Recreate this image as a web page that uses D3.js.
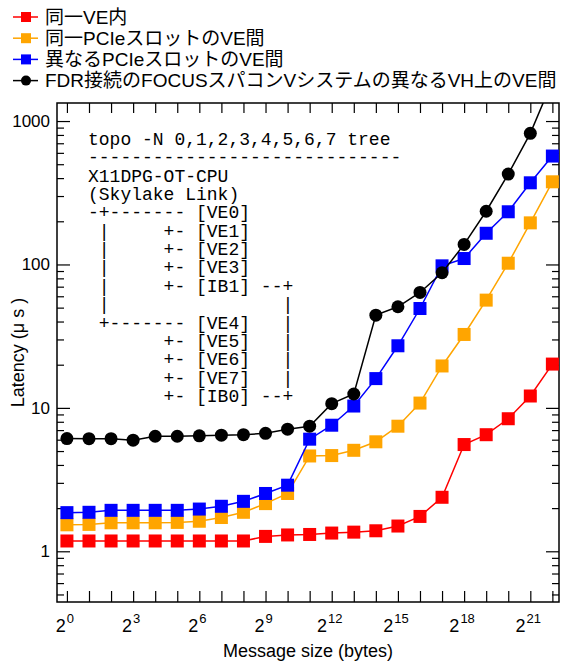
<!DOCTYPE html>
<html><head><meta charset="utf-8">
<script src="https://cdn.jsdelivr.net/npm/d3@7"></script>
<style>
html,body{margin:0;padding:0;background:#fff;}
svg{display:block;}
</style></head>
<body>
<svg id="chart" width="561" height="661"></svg>
<script>
// ---- data ----
const messageSizes = [1,2,4,8,16,32,64,128,256,512,1024,2048,4096,8192,16384,32768,65536,131072,262144,524288,1048576,2097152,4194304];
const sameVE      = [1.18,1.18,1.18,1.18,1.18,1.18,1.18,1.18,1.18,1.27,1.30,1.31,1.34,1.36,1.39,1.50,1.75,2.38,5.55,6.5,8.4,12.1,20.2];
const samePCIe    = [1.53,1.54,1.58,1.58,1.58,1.59,1.62,1.72,1.87,2.15,2.53,4.62,4.65,5.06,5.8,7.45,10.8,19.6,32.5,56.4,102,195,377];
const diffPCIe    = [1.86,1.87,1.93,1.93,1.93,1.93,1.97,2.06,2.23,2.53,2.89,6.05,7.57,10.3,16.0,27.1,49.3,97.8,110,165,233,371,570];
const fdrFocus    = [6.11,6.1,6.1,5.95,6.34,6.34,6.38,6.45,6.5,6.65,7.1,7.45,10.7,12.5,44.3,50.7,63.8,87.5,138,235,427,821,1900];
const seriesNames = ["同一VE内","同一PCIeスロットのVE間","異なるPCIeスロットのVE間","FDR接続のFOCUSスパコンVシステムの異なるVH上のVE間"];
const seriesColors = ["#ff0000","#ffa500","#0000ff","#000000"];
const seriesShapes = ["square","square","square","circle"];
const xTickExps = [0,1,2,3,4,5,6,7,8,9,10,11,12,13,14,15,16,17,18,19,20,21,22];
const xLabelExps = [0,3,6,9,12,15,18,21];
const yMajor = [1,10,100,1000];
const yMinor = [0.5,0.6,0.7,0.8,0.9,2,3,4,5,6,7,8,9,20,30,40,50,60,70,80,90,200,300,400,500,600,700,800,900];
const topoLines = [
  "topo -N 0,1,2,3,4,5,6,7 tree",
  "-----------------------------",
  "X11DPG-OT-CPU",
  "(Skylake Link)",
  "-+------- [VE0]",
  " |     +- [VE1]",
  " |     +- [VE2]",
  " |     +- [VE3]",
  " |     +- [IB1] --+",
  " |                |",
  " +------- [VE4]   |",
  "       +- [VE5]   |",
  "       +- [VE6]   |",
  "       +- [VE7]   |",
  "       +- [IB0] --+"
];

// ---- layout ----
const L = 57, R = 559, T = 103, B = 602;
const svg = d3.select("#chart");
const x = d3.scaleLog().base(2).domain([Math.pow(2,-0.45), Math.pow(2,22.3)]).range([L, R]);
const y = d3.scaleLog().domain([0.443, 1336]).range([B, T]);

const sansFont = "'Liberation Sans', Arial, Helvetica, 'Noto Sans CJK JP', sans-serif";

svg.append("defs").append("clipPath").attr("id","plotclip")
  .append("rect").attr("x",L).attr("y",T).attr("width",R-L).attr("height",B-T);

// ---- axes ticks (inward) ----
function styleAxis(g){ g.select(".domain").remove(); g.selectAll("line").attr("stroke","#000").attr("stroke-width",1.2); g.selectAll("text").remove(); }
svg.append("g").attr("transform",`translate(0,${B})`)
  .call(d3.axisBottom(x).tickValues(xTickExps.map(e=>Math.pow(2,e))).tickSize(-11)).call(styleAxis);
svg.append("g").attr("transform",`translate(0,${T})`)
  .call(d3.axisTop(x).tickValues(xTickExps.map(e=>Math.pow(2,e))).tickSize(-10)).call(styleAxis);
svg.append("g").attr("transform",`translate(${L},0)`)
  .call(d3.axisLeft(y).tickValues(yMajor).tickSize(-13)).call(styleAxis);
svg.append("g").attr("transform",`translate(${L},0)`)
  .call(d3.axisLeft(y).tickValues(yMinor).tickSize(-7)).call(styleAxis);
svg.append("g").attr("transform",`translate(${R},0)`)
  .call(d3.axisRight(y).tickValues(yMajor).tickSize(-13)).call(styleAxis);
svg.append("g").attr("transform",`translate(${R},0)`)
  .call(d3.axisRight(y).tickValues(yMinor).tickSize(-7)).call(styleAxis);

// frame
svg.append("rect").attr("x",L).attr("y",T).attr("width",R-L).attr("height",B-T)
  .attr("fill","none").attr("stroke","#000").attr("stroke-width",1.5);

// y tick labels
svg.append("g").selectAll("text").data(yMajor).join("text")
  .attr("x", L-7).attr("y", d=>y(d)).attr("dy","0.35em")
  .attr("text-anchor","end").attr("font-family",sansFont).attr("font-size",17)
  .text(d=>d);

// x tick labels 2^n
const xl = svg.append("g").selectAll("text").data(xLabelExps).join("text")
  .attr("x", d=>x(Math.pow(2,d)) - 2).attr("y", 632)
  .attr("text-anchor","middle").attr("font-family",sansFont).attr("font-size",18);
xl.append("tspan").text("2");
xl.append("tspan").attr("font-size",13).attr("dy",-9).attr("dx",1).text(d=>d);

// axis titles
svg.append("text").attr("x",(L+R)/2).attr("y",657).attr("text-anchor","middle")
  .attr("font-family",sansFont).attr("font-size",18).text("Message size (bytes)");
svg.append("text").attr("transform",`translate(24,${(T+B)/2}) rotate(-90)`)
  .attr("text-anchor","middle").attr("font-family",sansFont).attr("font-size",18)
  .text("Latency (μ s )");

// ---- topo annotation ----
svg.append("g").selectAll("text").data(topoLines).join("text")
  .attr("x", 88).attr("y",(d,i)=>145 + i*18.35)
  .attr("xml:space","preserve").style("white-space","pre")
  .attr("font-family","'Liberation Mono','Courier New',Courier,monospace").attr("font-size",18)
  .text(d=>d);

// ---- series ----
const allSeries = [sameVE, samePCIe, diffPCIe, fdrFocus];
const line = d3.line().x((d,i)=>x(messageSizes[i])).y(d=>y(d));
const plot = svg.append("g").attr("clip-path","url(#plotclip)");
allSeries.forEach((vals, si) => {
  const g = plot.append("g");
  g.append("path").datum(vals).attr("d", line).attr("fill","none")
    .attr("stroke", seriesColors[si]).attr("stroke-width",1.5);
  if (seriesShapes[si] === "square") {
    g.selectAll("rect").data(vals).join("rect")
      .attr("x",(d,i)=>x(messageSizes[i])-6.5).attr("y",d=>y(d)-6.5)
      .attr("width",13).attr("height",13).attr("fill",seriesColors[si]);
  } else {
    g.selectAll("circle").data(vals).join("circle")
      .attr("cx",(d,i)=>x(messageSizes[i])).attr("cy",d=>y(d)).attr("r",6.5)
      .attr("fill",seriesColors[si]);
  }
});

// ---- legend ----
const lg = svg.append("g");
seriesNames.forEach((name, i) => {
  const cy = 17 + i*21.2;
  lg.append("line").attr("x1",13).attr("x2",38).attr("y1",cy).attr("y2",cy)
    .attr("stroke",seriesColors[i]).attr("stroke-width",1.5);
  if (seriesShapes[i] === "square") {
    lg.append("rect").attr("x",21).attr("y",cy-5).attr("width",10).attr("height",10).attr("fill",seriesColors[i]);
  } else {
    lg.append("circle").attr("cx",26).attr("cy",cy).attr("r",5).attr("fill",seriesColors[i]);
  }
  lg.append("text").attr("x",45).attr("y",cy).attr("dy","0.36em")
    .attr("font-family",sansFont).attr("font-size",19).text(name);
});
</script>
</body></html>
